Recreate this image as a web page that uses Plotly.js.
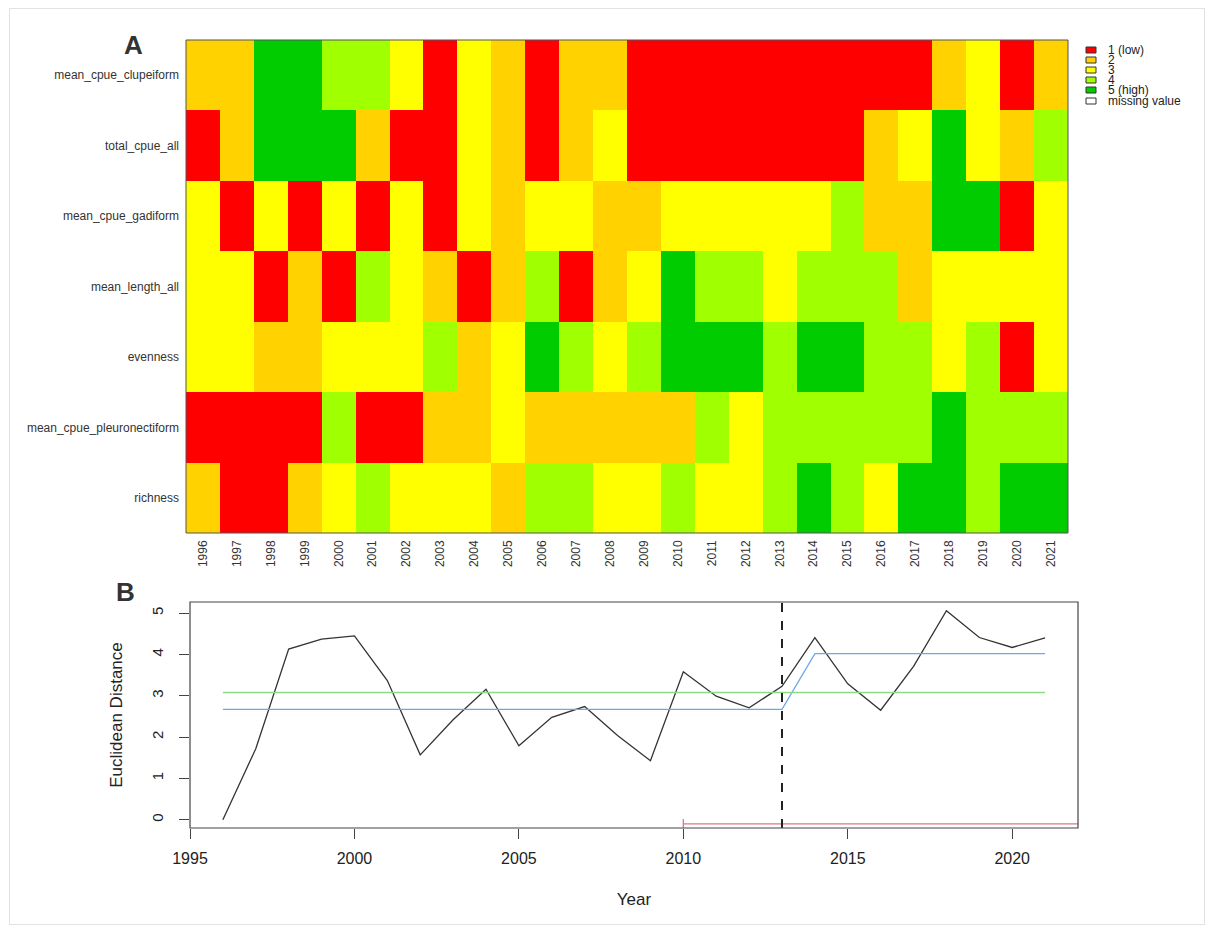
<!DOCTYPE html>
<html>
<head>
<meta charset="utf-8">
<script src="https://cdn.plot.ly/plotly-3.0.1.min.js"></script>
<style>
html,body{margin:0;padding:0;background:#fff;}
#frame{position:absolute;left:9px;top:8px;width:1196px;height:917px;border:1px solid #e2e2e2;box-sizing:border-box;pointer-events:none;}
#chart{width:1213px;height:927px;}
</style>
</head>
<body>
<div id="chart"></div>
<div id="frame"></div>
<script>
// ---------- Panel A data ----------
const years = ["1996","1997","1998","1999","2000","2001","2002","2003","2004","2005","2006","2007","2008",
               "2009","2010","2011","2012","2013","2014","2015","2016","2017","2018","2019","2020","2021"];
const indicators = ["mean_cpue_clupeiform","total_cpue_all","mean_cpue_gadiform","mean_length_all",
                    "evenness","mean_cpue_pleuronectiform","richness"];
const mean_cpue_clupeiform      = [2,2,5,5,4,4,3,1,3,2,1,2,2,1,1,1,1,1,1,1,1,1,2,3,1,2];
const total_cpue_all            = [1,2,5,5,5,2,1,1,3,2,1,2,3,1,1,1,1,1,1,1,2,3,5,3,2,4];
const mean_cpue_gadiform        = [3,1,3,1,3,1,3,1,3,2,3,3,2,2,3,3,3,3,3,4,2,2,5,5,1,3];
const mean_length_all           = [3,3,1,2,1,4,3,2,1,2,4,1,2,3,5,4,4,3,4,4,4,2,3,3,3,3];
const evenness                  = [3,3,2,2,3,3,3,4,2,3,5,4,3,4,5,5,5,4,5,5,4,4,3,4,1,3];
const mean_cpue_pleuronectiform = [1,1,1,1,4,1,1,2,2,3,2,2,2,2,2,4,3,4,4,4,4,4,5,4,4,4];
const richness                  = [2,1,1,2,3,4,3,3,3,2,4,4,3,3,4,3,3,4,5,4,3,5,5,4,5,5];
const classColors = ["#FF0000","#FFD200","#FFFF00","#A0FF00","#00CC00"];
const legendLabels = ["1 (low)","2","3","4","5 (high)","missing value"];

// ---------- Panel B data ----------
const yearNum = [1996,1997,1998,1999,2000,2001,2002,2003,2004,2005,2006,2007,2008,
                 2009,2010,2011,2012,2013,2014,2015,2016,2017,2018,2019,2020,2021];
const euclid = [0.00,1.72,4.13,4.37,4.45,3.37,1.57,2.42,3.16,1.79,2.48,2.74,2.04,
                1.43,3.58,2.99,2.71,3.23,4.41,3.29,2.65,3.71,5.06,4.41,4.17,4.40];
const regimeMean = [2.67,2.67,2.67,2.67,2.67,2.67,2.67,2.67,2.67,2.67,2.67,2.67,2.67,
                    2.67,2.67,2.67,2.67,2.67,4.02,4.02,4.02,4.02,4.02,4.02,4.02,4.02];
const overallMean = 3.08;
const breakYear = 2013;
const redSegStart = 2010, redSegEnd = 2022, redSegLevel = -0.1;

const FONT = "Liberation Sans, Arial, Helvetica, sans-serif";

const z = [mean_cpue_clupeiform,total_cpue_all,mean_cpue_gadiform,mean_length_all,
           evenness,mean_cpue_pleuronectiform,richness];
const cs = [];
classColors.forEach((c,i)=>{ cs.push([i/5,c]); cs.push([(i+1)/5,c]); });

const traces = [
  {type:"heatmap", x:years, y:indicators, z:z, zmin:0.5, zmax:5.5, colorscale:cs,
   showscale:false, xaxis:"x", yaxis:"y", hoverinfo:"x+y+z"},
  {type:"scatter", mode:"lines", x:yearNum, y:euclid, xaxis:"x2", yaxis:"y2",
   line:{color:"#333333", width:1.3}, showlegend:false},
  {type:"scatter", mode:"lines", x:yearNum, y:regimeMean, xaxis:"x2", yaxis:"y2",
   line:{color:"#6FA8E8", width:1.3}, showlegend:false},
  {type:"scatter", mode:"lines", x:[yearNum[0], yearNum[yearNum.length-1]], y:[overallMean, overallMean],
   xaxis:"x2", yaxis:"y2", line:{color:"#8EDB86", width:1.6}, showlegend:false},
  {type:"scatter", mode:"lines",
   x:[redSegStart, redSegStart, null, redSegStart, redSegEnd],
   y:[redSegLevel-0.12, redSegLevel+0.12, null, redSegLevel, redSegLevel],
   xaxis:"x2", yaxis:"y2", line:{color:"#E07585", width:1.3}, showlegend:false}
];

const shapes = [
  {type:"line", xref:"x2", yref:"y2 domain", x0:breakYear, x1:breakYear, y0:0, y1:1,
   line:{color:"#222", width:2, dash:"dash"}},
  {type:"rect", xref:"x2 domain", yref:"y2 domain", x0:0, x1:1, y0:0, y1:1,
   line:{color:"#444", width:1.2}},
  {type:"rect", xref:"x domain", yref:"y domain", x0:0, x1:1, y0:0, y1:1,
   line:{color:"#555", width:1}}
];
const annotations = [
  {text:"<b>A</b>", xref:"paper", yref:"paper", x:133/1213, y:1-45/927, showarrow:false,
   font:{family:FONT, size:26, color:"#333"}, xanchor:"center", yanchor:"middle"},
  {text:"<b>B</b>", xref:"paper", yref:"paper", x:125/1213, y:1-592/927, showarrow:false,
   font:{family:FONT, size:26, color:"#333"}, xanchor:"center", yanchor:"middle"}
];
const legY = [50,60,70,80,90,101];
legendLabels.forEach((lab,i)=>{
  const fill = i < classColors.length ? classColors[i] : "#FFFFFF";
  shapes.push({type:"rect", xref:"paper", yref:"paper",
    x0:1086/1213, x1:1096/1213, y0:1-(legY[i]+3)/927, y1:1-(legY[i]-3)/927,
    fillcolor:fill, line:{color:"#333", width:1}});
  annotations.push({text:lab, xref:"paper", yref:"paper", x:1106/1213, y:1-legY[i]/927,
    showarrow:false, xanchor:"left", yanchor:"middle",
    font:{family:FONT, size:12, color:"#222"}});
});

const layout = {
  width:1213, height:927, margin:{l:0,r:0,t:0,b:0},
  paper_bgcolor:"#fff", plot_bgcolor:"#fff", showlegend:false,
  font:{family:FONT, color:"#222"},
  xaxis:{domain:[186/1213, 1068/1213], anchor:"y", type:"category", tickangle:-90,
         tickfont:{size:12, color:"#333"}, ticks:"", showgrid:false, zeroline:false,
         showline:false, ticklabelstandoff:4},
  yaxis:{domain:[1-533/927, 1-40/927], anchor:"x", type:"category", autorange:"reversed",
         tickfont:{size:12, color:"#333"}, ticks:"", showgrid:false, zeroline:false,
         showline:false, ticklabelstandoff:6},
  xaxis2:{domain:[190/1213, 1078/1213], anchor:"y2", range:[1995,2022],
          tickvals:[1995,2000,2005,2010,2015,2020], ticks:"outside", ticklen:10, tickwidth:1,
          tickcolor:"#444", tickfont:{size:16, color:"#222"}, showgrid:false, zeroline:false,
          showline:false, ticklabelstandoff:6,
          title:{text:"Year", font:{size:17, color:"#222"}, standoff:26}},
  yaxis2:{domain:[1-828/927, 1-602/927], anchor:"x2", range:[-0.2,5.27],
          tickvals:[0,1,2,3,4,5], ticks:"outside", ticklen:10, tickwidth:1, tickcolor:"#444",
          tickangle:-90, tickfont:{size:15, color:"#222"}, showgrid:false, zeroline:false,
          showline:false, ticklabelstandoff:10,
          title:{text:"Euclidean Distance", font:{size:17, color:"#222"}, standoff:22}},
  shapes:shapes, annotations:annotations
};

Plotly.newPlot("chart", traces, layout, {displayModeBar:false, staticPlot:true});
</script>
</body>
</html>
